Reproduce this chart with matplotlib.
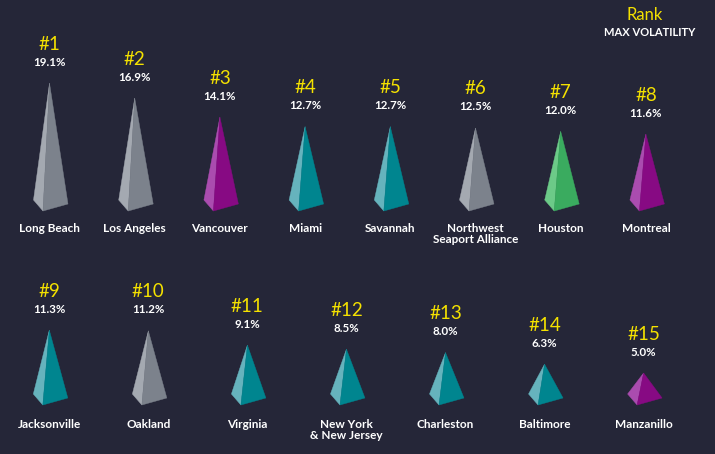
import matplotlib.pyplot as plt
from matplotlib.patches import Polygon

# ---------------- data ----------------
row1_names = ["Long Beach", "Los Angeles", "Vancouver", "Miami", "Savannah",
              "Northwest\nSeaport Alliance", "Houston", "Montreal"]
row1_vals = [19.1, 16.9, 14.1, 12.7, 12.7, 12.5, 12.0, 11.6]
row1_cols = ["gray", "gray", "purple", "teal", "teal", "gray", "green", "purple"]

row2_names = ["Jacksonville", "Oakland", "Virginia", "New York\n& New Jersey",
              "Charleston", "Baltimore", "Manzanillo"]
row2_vals = [11.3, 11.2, 9.1, 8.5, 8.0, 6.3, 5.0]
row2_cols = ["teal", "gray", "teal", "teal", "teal", "teal", "purple"]

# light face, dark face
palette = {
    "gray": ("#a4a9b1", "#7c828c"),
    "purple": ("#aa4caf", "#870a83"),
    "teal": ("#66b3bd", "#00858f"),
    "green": ("#6cca88", "#3aab5f"),
}

BG = "#252638"
YEL = "#f4e100"
plt.rcParams['font.family'] = ['Lato', 'DejaVu Sans']

fig = plt.figure(figsize=(7.15, 4.54), dpi=100, facecolor=BG)
ax = fig.add_axes([0, 0, 1, 1])
ax.set_facecolor(BG)
ax.set_xlim(0, 715)
ax.set_ylim(454, 0)
ax.axis("off")

PX_PER_PCT = 6.8


def pyramid(cx, yb, v, col, rank, name, name_y):
    h = PX_PER_PCT * v - 11
    top = (cx, yb - h)
    left = (cx - 16, yb - 2)
    front = (cx - 6.5, yb + 9)
    right = (cx + 18.5, yb + 2)
    light, dark = palette[col]
    ax.add_patch(Polygon([top, left, front], closed=True, fc=light, ec=light, lw=0.3))
    ax.add_patch(Polygon([top, front, right], closed=True, fc=dark, ec=dark, lw=0.3))
    ax.text(cx, top[1] - 39, f"#{rank}", color=YEL, fontsize=13.5,
            ha="center", va="center")
    ax.text(cx, top[1] - 21, f"{v:.1f}%", color="white", fontsize=8.3,
            fontweight="bold", ha="center", va="center")
    ax.text(cx, name_y, name, color="white", fontsize=8.5, fontweight="bold",
            ha="center", va="top", linespacing=1.05)


for i, (n, v, c) in enumerate(zip(row1_names, row1_vals, row1_cols)):
    pyramid(49.5 + 85.2 * i, 202, v, c, i + 1, n, 223)

for i, (n, v, c) in enumerate(zip(row2_names, row2_vals, row2_cols)):
    pyramid(49.3 + 99.05 * i, 396, v, c, i + 9, n, 419)

ax.text(645, 15, "Rank", color=YEL, fontsize=12, ha="center", va="center")
ax.text(650, 33, "MAX VOLATILITY", color="white", fontsize=8, fontweight="bold",
        ha="center", va="center")

fig.savefig("out.png", dpi=100, facecolor=BG)
